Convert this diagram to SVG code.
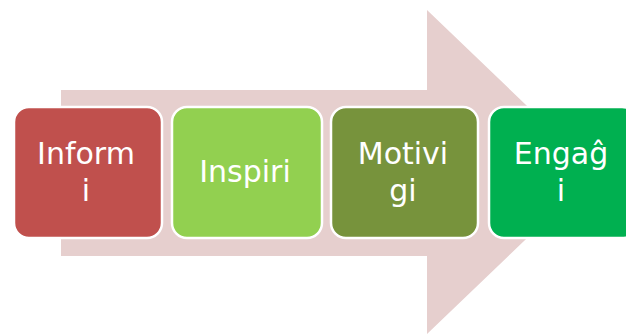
<svg xmlns="http://www.w3.org/2000/svg" width="626" height="334" viewBox="0 0 626 334">
<style>
.box{stroke:#ffffff;stroke-width:2.5}
.t{font-family:"DejaVu Sans",Verdana,sans-serif;font-size:30px;fill:#ffffff;text-anchor:middle}
</style>
<rect width="626" height="334" fill="#ffffff"/>
<g id="connectors">
<polygon points="61,90 427,90 427,10 596,172 427,334 427,256 61,256" fill="#E6CFCE"/>
</g>
<g id="node-inform">
<rect class="box" x="14" y="107" width="148" height="131" rx="15" fill="#C0504D"/>
<text class="t" x="86" y="164">Inform</text>
<text class="t" x="86" y="201">i</text>
</g>
<g id="node-inspiri">
<rect class="box" x="172" y="107" width="150" height="131" rx="15" fill="#92D050"/>
<text class="t" x="245" y="182">Inspiri</text>
</g>
<g id="node-motivi">
<rect class="box" x="331" y="107" width="147" height="131" rx="15" fill="#77933C"/>
<text class="t" x="403" y="164">Motivi</text>
<text class="t" x="403" y="201">gi</text>
</g>
<g id="node-engagi">
<rect class="box" x="489" y="107" width="148" height="131" rx="15" fill="#00B050"/>
<text class="t" x="561" y="164">Engaĝ</text>
<text class="t" x="561" y="201">i</text>
</g>
</svg>
